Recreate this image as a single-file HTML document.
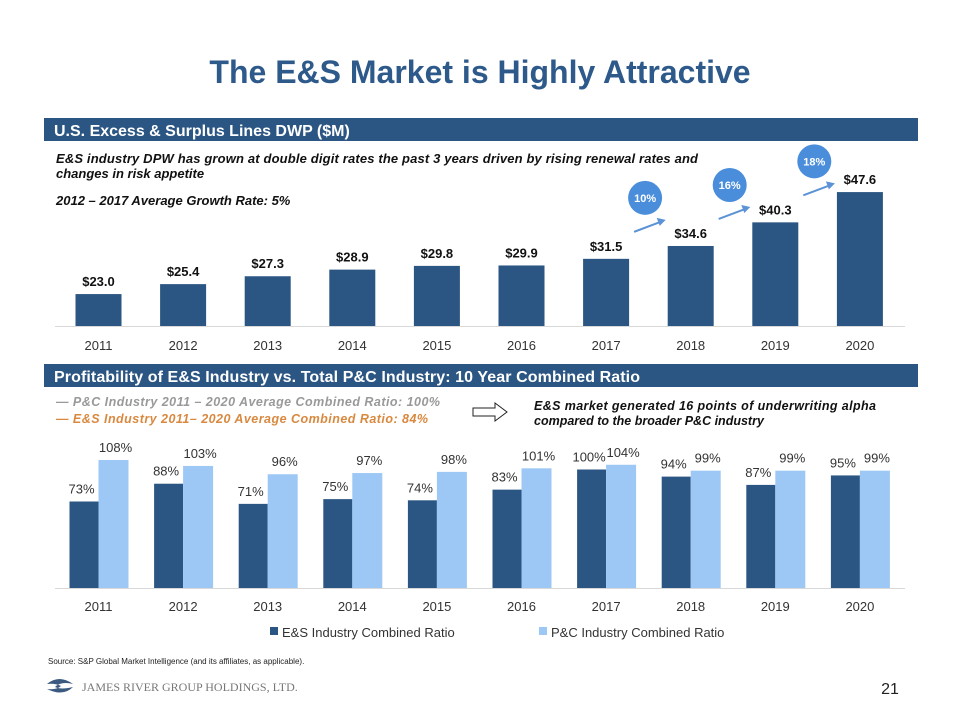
<!DOCTYPE html>
<html><head><meta charset="utf-8"><style>
body{margin:0;background:#fff;}
svg{display:block;font-family:"Liberation Sans",Arial,sans-serif;}
</style></head><body>
<svg id="s" width="960" height="720" viewBox="0 0 960 720">
<text x="480" y="83" text-anchor="middle" font-size="32" font-weight="bold" fill="#2D5A8A">The E&amp;S Market is Highly Attractive</text>
<rect x="44" y="118" width="874" height="23" fill="#2B5582"/>
<text x="54" y="136" font-size="16" font-weight="bold" fill="#fff">U.S. Excess &amp; Surplus Lines DWP ($M)</text>
<text x="56" y="163" font-size="13" font-weight="bold" font-style="italic" fill="#111" textLength="642">E&amp;S industry DPW has grown at double digit rates the past 3 years driven by rising renewal rates and</text>
<text x="56" y="178" font-size="13" font-weight="bold" font-style="italic" fill="#111">changes in risk appetite</text>
<text x="56" y="205" font-size="13" font-weight="bold" font-style="italic" fill="#111">2012 – 2017 Average Growth Rate: 5%</text>
<g id="topChart"></g>
<rect x="44" y="364" width="874" height="23" fill="#2B5582"/>
<text x="54" y="382" font-size="16" font-weight="bold" fill="#fff" textLength="586">Profitability  of E&amp;S Industry vs.  Total P&amp;C Industry: 10 Year Combined Ratio</text>
<text x="56" y="406" font-size="12.5" font-weight="bold" font-style="italic" fill="#999" textLength="384">— P&amp;C Industry 2011 – 2020 Average Combined Ratio: 100%</text>
<text x="56" y="423" font-size="12.5" font-weight="bold" font-style="italic" fill="#D9893F" textLength="372">— E&amp;S Industry 2011– 2020 Average Combined Ratio: 84%</text>
<path d="M473 408h22v-5l12 9-12 9v-5h-22z" fill="#fff" stroke="#222" stroke-width="1"/>
<text x="534" y="410" font-size="12.5" font-weight="bold" font-style="italic" fill="#111" textLength="342">E&amp;S market generated 16 points of underwriting alpha</text>
<text x="534" y="425" font-size="12.5" font-weight="bold" font-style="italic" fill="#111">compared to the broader P&amp;C industry</text>
<g id="botChart"></g>
<rect x="270" y="627" width="8" height="8" fill="#2B5582"/>
<text x="282" y="637" font-size="13" fill="#333">E&amp;S Industry Combined Ratio</text>
<rect x="539" y="627" width="8" height="8" fill="#9DC8F5"/>
<text x="551" y="637" font-size="13" fill="#333">P&amp;C Industry Combined Ratio</text>
<text x="48" y="664" font-size="8" fill="#222">Source:  S&amp;P Global Market  Intelligence (and  its affiliates, as applicable).</text>
<g>
<path d="M47 684q12-10 26 0q-12-3-18 3q6 3 18 0q-10 10-26 2q10 1 14-3q-6-3-14-2z" fill="#3A5A80"/>
<text x="82" y="691" font-size="12" fill="#777" font-family="Liberation Serif,serif">JAMES RIVER GROUP HOLDINGS, LTD.</text>
</g>
<text x="890" y="694" font-size="16" fill="#222" text-anchor="middle">21</text>
</svg>
<script>
const years=["2011","2012","2013","2014","2015","2016","2017","2018","2019","2020"];
const dwpValues=[23.0,25.4,27.3,28.9,29.8,29.9,31.5,34.6,40.3,47.6];
const dwpLabels=["$23.0","$25.4","$27.3","$28.9","$29.8","$29.9","$31.5","$34.6","$40.3","$47.6"];
const growthLabels=["10%","16%","18%"];
const esRatio=[73,88,71,75,74,83,100,94,87,95];
const pcRatio=[108,103,96,97,98,101,104,99,99,99];
const NS="http://www.w3.org/2000/svg";
function mk(p,t,a,txt){const e=document.createElementNS(NS,t);for(const k in a)e.setAttribute(k,a[k]);if(txt!=null)e.textContent=txt;p.appendChild(e);return e;}
const xC=i=>98.5+i*84.6;
// top chart
const topG=document.getElementById('topChart');
const yTop=v=>326-4.146*(v-15.3);
mk(topG,'line',{x1:55,x2:905,y1:326.5,y2:326.5,stroke:'#d9d9d9'});
dwpValues.forEach((v,i)=>{
 let r=mk(topG,'rect',{x:xC(i)-23,y:yTop(v),width:46,height:326-yTop(v),fill:'#2B5582'});
 
 
 let t=mk(topG,'text',{x:xC(i),y:yTop(v)-8,'text-anchor':'middle','font-size':13,'font-weight':'bold',fill:'#111'},dwpLabels[i]);
 
 
 let a=mk(topG,'text',{x:xC(i),y:350,'text-anchor':'middle','font-size':13,fill:'#333'},years[i]);
 
 
});
growthLabels.forEach((g,k)=>{
 const i=7+k;
 const x1=xC(i-1)+28,x2=xC(i)-25;
 const y1=yTop(dwpValues[i-1])-27,y2=y1-12;
 let l=mk(topG,'line',{x1:x1,y1:y1,x2:x2-5,y2:y2+2,stroke:'#5B93D6','stroke-width':2});
 
 
 mk(topG,'path',{d:`M${x2} ${y2} l-9 -2 l3 8 z`,fill:'#5B93D6'});
 const cx=x1+11,cy=y1-34;
 let c=mk(topG,'circle',{cx:cx,cy:cy,r:17,fill:'#4A8EDB'});
 
 
 let t=mk(topG,'text',{x:cx,y:cy+4,'text-anchor':'middle','font-size':11,'font-weight':'bold',fill:'#fff'},g);
 
 
});
// bottom chart
const botG=document.getElementById('botChart');
const yB=v=>588-1.185*v;
mk(botG,'line',{x1:55,x2:905,y1:588.5,y2:588.5,stroke:'#d9d9d9'});
years.forEach((y,i)=>{
 const c=xC(i);
 let r1=mk(botG,'rect',{x:c-29,y:yB(esRatio[i]),width:29,height:588-yB(esRatio[i]),fill:'#2B5582'});
 
 
 let r2=mk(botG,'rect',{x:c,y:yB(pcRatio[i]),width:30,height:588-yB(pcRatio[i]),fill:'#9DC8F5'});
 
 
 let t1=mk(botG,'text',{x:c-17,y:yB(esRatio[i])-8,'text-anchor':'middle','font-size':13,fill:'#333'},esRatio[i]+'%');
 
 
 let t2=mk(botG,'text',{x:c+17,y:yB(pcRatio[i])-8,'text-anchor':'middle','font-size':13,fill:'#333'},pcRatio[i]+'%');
 
 
 let a=mk(botG,'text',{x:c,y:611,'text-anchor':'middle','font-size':13,fill:'#333'},y);
 
 
});
</script>
</body></html>
